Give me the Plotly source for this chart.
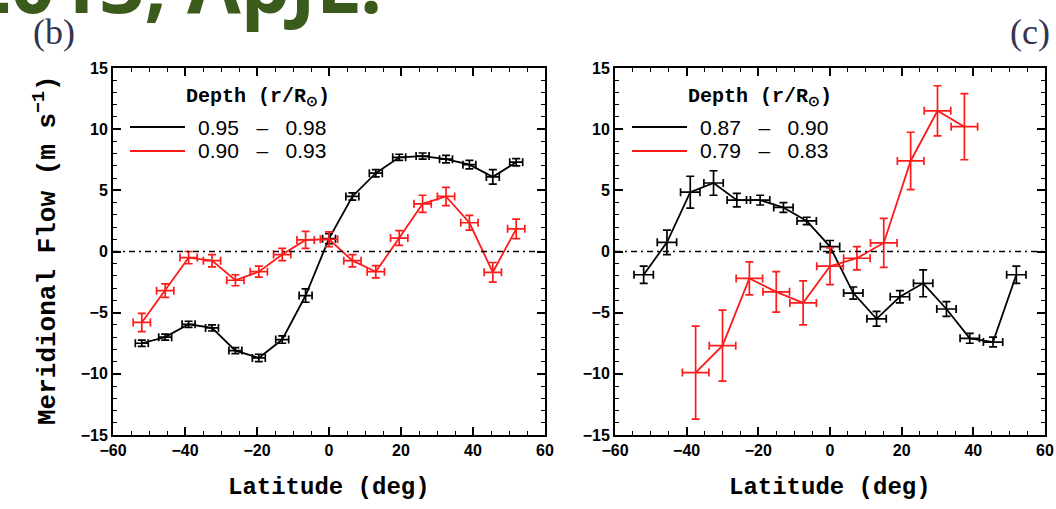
import plotly.graph_objects as go

# Panel (b): shallower depth ranges
lat_b = [-52, -45.5, -39, -32.5, -26, -19.5, -13, -6.5, 0, 6.5, 13, 19.5, 26, 32.5, 39, 45.5, 52]
flow_b_shallow = [-7.5, -7.0, -5.95, -6.25, -8.1, -8.7, -7.2, -3.6, 1.05, 4.5, 6.4, 7.7, 7.8, 7.55, 7.1, 6.1, 7.3]
err_b_shallow = [0.25, 0.25, 0.25, 0.25, 0.25, 0.3, 0.3, 0.55, 0.4, 0.3, 0.3, 0.25, 0.25, 0.3, 0.35, 0.6, 0.3]
flow_b_deep = [-5.8, -3.2, -0.5, -0.75, -2.35, -1.65, -0.25, 0.95, 1.0, -0.75, -1.65, 1.1, 3.9, 4.5, 2.35, -1.7, 1.85]
err_b_deep = [0.75, 0.55, 0.5, 0.5, 0.45, 0.45, 0.5, 0.7, 0.6, 0.5, 0.5, 0.6, 0.7, 0.75, 0.6, 0.8, 0.8]

# Panel (c): deeper depth ranges
lat_c_black = [-52, -45.5, -39, -32.5, -26, -19.5, -13, -6.5, 0, 6.5, 13, 19.5, 26, 32.5, 39, 45.5, 52]
flow_c_black = [-1.9, 0.75, 4.85, 5.6, 4.2, 4.2, 3.6, 2.5, 0.4, -3.4, -5.5, -3.7, -2.6, -4.7, -7.1, -7.4, -1.9]
err_c_black = [0.7, 1.0, 1.3, 1.0, 0.55, 0.4, 0.4, 0.3, 0.5, 0.5, 0.6, 0.5, 1.1, 0.6, 0.4, 0.4, 0.7]
lat_c_red = [-37.5, -30, -22.5, -15, -7.5, 0, 7.5, 15, 22.5, 30, 37.5]
flow_c_red = [-9.9, -7.7, -2.2, -3.3, -4.2, -1.2, -0.55, 0.7, 7.4, 11.5, 10.2]
err_c_red = [3.8, 2.9, 1.35, 1.65, 1.8, 1.5, 0.95, 2.0, 2.35, 2.05, 2.7]

depth_b = ["0.95", "0.98", "0.90", "0.93"]
depth_c = ["0.87", "0.90", "0.79", "0.83"]

x_ticks = [-60, -40, -20, 0, 20, 40, 60]
y_ticks = [-15, -10, -5, 0, 5, 10, 15]

W, H = 1056, 509
RED = "#ff1a1a"


def px(x):
    return x / W


def py(y):
    return 1 - y / H


fig = go.Figure()


def add_series(xs, ys, ey, ex, color, xa, ya, lw=1.8):
    fig.add_trace(go.Scatter(
        x=xs, y=ys, mode="lines", xaxis=xa, yaxis=ya,
        line=dict(color=color, width=lw),
        error_y=dict(type="data", array=ey, color=color, thickness=1.7, width=4),
        error_x=dict(type="data", array=[ex] * len(xs), color=color, thickness=1.7, width=4),
        showlegend=False, hoverinfo="skip",
    ))


add_series(lat_b, flow_b_shallow, err_b_shallow, 1.8, "black", "x", "y")
add_series(lat_b, flow_b_deep, err_b_deep, 2.4, RED, "x", "y")
add_series(lat_c_black, flow_c_black, err_c_black, 2.7, "black", "x2", "y2")
add_series(lat_c_red, flow_c_red, err_c_red, 3.7, RED, "x2", "y2")

tickfont = dict(family="Liberation Sans", size=16, color="black", weight="bold")
ydom = [py(435), py(68)]


def xaxis(dom, anchor):
    return dict(
        domain=dom, anchor=anchor, range=[-60, 60], tickvals=x_ticks,
        ticks="inside", ticklen=8, tickwidth=1.5, tickcolor="black",
        minor=dict(dtick=5, ticks="inside", ticklen=4, tickwidth=1.2, tickcolor="black"),
        showline=True, linecolor="black", linewidth=2, mirror="ticks",
        showgrid=False, zeroline=False, tickfont=tickfont, automargin=False,
    )


def yaxis(anchor):
    return dict(
        domain=ydom, anchor=anchor, range=[-15, 15], tickvals=y_ticks,
        ticks="inside", ticklen=8, tickwidth=1.5, tickcolor="black",
        minor=dict(dtick=1, ticks="inside", ticklen=4, tickwidth=1.2, tickcolor="black"),
        showline=True, linecolor="black", linewidth=2, mirror="ticks",
        showgrid=False, zeroline=False, tickfont=tickfont, automargin=False,
    )


fig.update_layout(
    width=W, height=H, margin=dict(l=0, r=0, t=0, b=0),
    paper_bgcolor="white", plot_bgcolor="white",
    xaxis=xaxis([px(113), px(545)], "y"),
    yaxis=yaxis("x"),
    xaxis2=xaxis([px(615), px(1045)], "y2"),
    yaxis2=yaxis("x2"),
)

# Dash-dot zero reference line in both panels
for xr, yr in (("x", "y"), ("x2", "y2")):
    fig.add_shape(type="line", xref=f"{xr} domain", yref=yr, x0=0, x1=1, y0=0, y1=0,
                  line=dict(color="black", width=1.6, dash="6px,4px,2px,4px"))

mono = "Liberation Mono"
ann = []

# Axis titles
for cx in (329, 830):
    ann.append(dict(x=px(cx), y=py(487), xref="paper", yref="paper", text="<b>Latitude (deg)</b>",
                    showarrow=False, font=dict(family=mono, size=24, color="black"),
                    xanchor="center", yanchor="middle"))
ann.append(dict(x=px(46), y=py(250), xref="paper", yref="paper",
                text="<b>Meridional Flow (m s<sup>−1</sup>)</b>", textangle=-90,
                showarrow=False, font=dict(family=mono, size=26, color="black"),
                xanchor="center", yanchor="middle"))


# In-panel legends
def legend(x_line0, x_text, x_head, labels):
    ann.append(dict(x=px(x_head), y=py(98), xref="paper", yref="paper",
                    text="<b>Depth (r/R<sub>⊙</sub>)</b>", showarrow=False,
                    font=dict(family=mono, size=20, color="black"),
                    xanchor="left", yanchor="middle"))
    for i, (color, yy) in enumerate((("black", 127), (RED, 151))):
        fig.add_shape(type="line", xref="paper", yref="paper",
                      x0=px(x_line0), x1=px(x_line0 + 55), y0=py(yy), y1=py(yy),
                      line=dict(color=color, width=1.8))
        ann.append(dict(x=px(x_text), y=py(yy), xref="paper", yref="paper",
                        text=f"{labels[2 * i]}&nbsp;&nbsp;&nbsp;–&nbsp;&nbsp;&nbsp;{labels[2 * i + 1]}",
                        showarrow=False, font=dict(family="Liberation Sans", size=21, color="black"),
                        xanchor="left", yanchor="middle"))


legend(130, 196, 184, depth_b)
legend(632, 698, 686, depth_c)

# Panel letters
for text, cx in (("(b)", 54), ("(c)", 1030)):
    ann.append(dict(x=px(cx), y=py(32), xref="paper", yref="paper", text=text,
                    showarrow=False, font=dict(family="Liberation Serif", size=36, color="#33334f"),
                    xanchor="center", yanchor="middle"))

# Citation banner across the top
ann.append(dict(x=px(-36), y=py(-17), xref="paper", yref="paper", text="<b>2013, ApJL.</b>",
                showarrow=False, font=dict(family="Open Sans", size=78, color="#3b5b1c"),
                xanchor="left", yanchor="middle"))

fig.update_layout(annotations=ann)
fig.write_html("out.html")
